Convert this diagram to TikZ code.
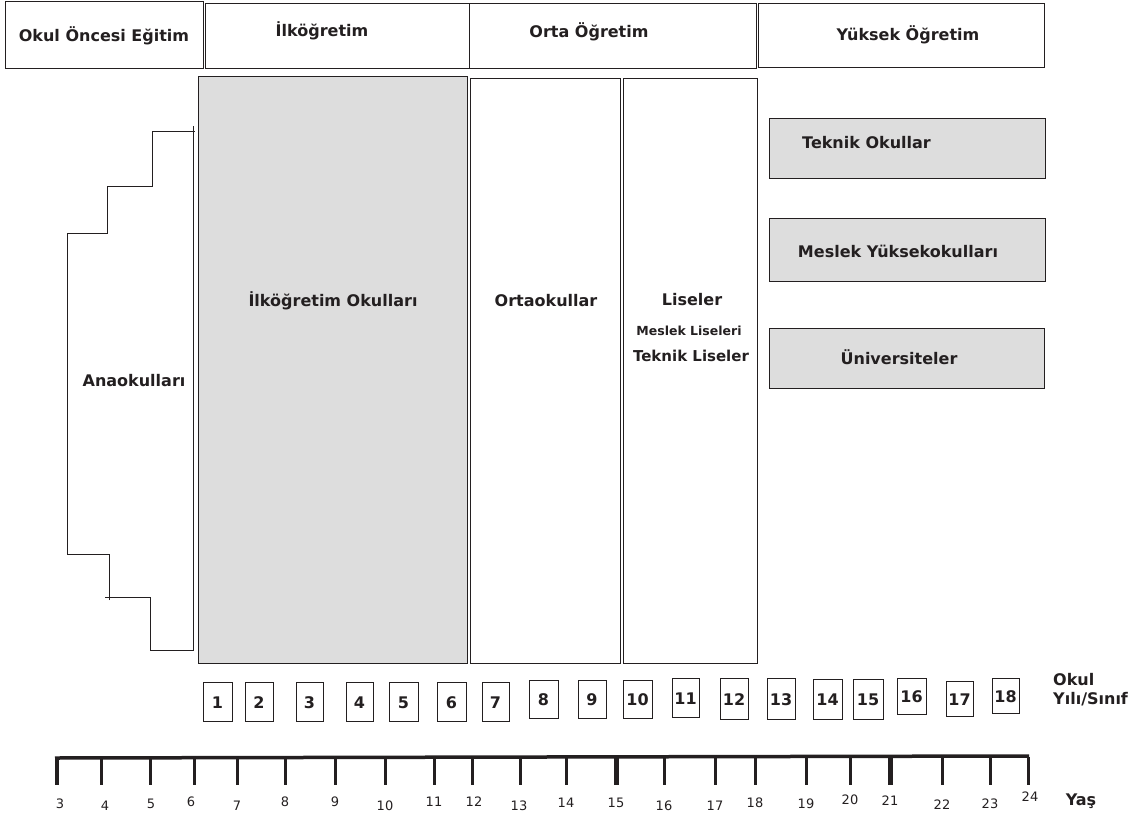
\documentclass[tikz,border=0pt]{standalone}
\usepackage{fontspec}
\setmainfont{DejaVu Sans}
\usepackage{tikz}

\definecolor{boxgray}{RGB}{221,221,221}
\definecolor{ink}{RGB}{35,31,32}
\tikzset{
  box/.style={draw=ink, line width=1pt},
  numbox/.style={draw=ink, line width=0.8pt},
  lbl/.style={text=ink, inner sep=0pt, font=\fontsize{16}{19}\selectfont\bfseries},
  agelbl/.style={text=ink, inner sep=0pt, font=\fontsize{13}{15}\selectfont}
}

\begin{document}
\begin{tikzpicture}[x=1pt, y=-1pt]
   \useasboundingbox (0,0) rectangle (1146,814);
   % header boxes
   \draw [box] (5,1) rectangle (203,68);
   \draw [box] (205,3) rectangle (469,68);
   \draw [box] (469,3) rectangle (756,68);
   \draw [box] (758,3) rectangle (1044,67);
   \node [lbl] (okulonc) at (104,36) {Okul Öncesi Eğitim};
   \node [lbl] (ilkhd) at (322,31) {İlköğretim};
   \node [lbl] (ortahd) at (589,32) {Orta Öğretim};
   \node [lbl] (yukhd) at (908,35) {Yüksek Öğretim};
   % school columns
   \draw [box, fill=boxgray] (198,76) rectangle (467,663);
   \draw [box] (470,78) rectangle (620,663);
   \draw [box] (623,78) rectangle (757,663);
   \node [lbl] (ilkokul) at (333,301) {İlköğretim Okulları};
   \node [lbl] (ortaok) at (546,301) {Ortaokullar};
   \node [lbl] (lise) at (692,300) {Liseler};
   \node [lbl, font=\fontsize{12.5}{15}\selectfont\bfseries] (meslise) at (689,331) {Meslek Liseleri};
   \node [lbl, font=\fontsize{15}{18}\selectfont\bfseries] (teklise) at (691,356) {Teknik Liseler};
   % higher education
   \draw [box, fill=boxgray] (769,118) rectangle (1045,178);
   \draw [box, fill=boxgray] (769,218) rectangle (1045,281);
   \draw [box, fill=boxgray] (769,328) rectangle (1044,388);
   \node [lbl, anchor=west] (teknok) at (802,143) {Teknik Okullar};
   \node [lbl] (mesyuk) at (898,251) {Meslek Yüksekokulları};
   \node [lbl] (univ) at (899,357) {Üniversiteler};
   % kindergarten bracket
   \draw [ink, line width=0.9pt] (193,126) -- (193,650) -- (150,650) -- (150,597) -- (105,597)
      (109,600) -- (109,554) -- (67,554) -- (67,233) -- (107,233) -- (107,186) -- (152,186)
      -- (152,131) -- (195,131);
   \node [lbl] (anaok) at (134,381) {Anaokulları};
   % class boxes
   \foreach \n/\xa/\xb/\ya/\yb in {1/203/232/682/721, 2/245/273/682/721, 3/296/323/682/721,
      4/346/373/682/721, 5/389/418/682/721, 6/437/466/682/721, 7/482/509/682/721,
      8/529/558/680/718, 9/578/606/680/718, 10/623/652/680/718, 11/672/699/678/717,
      12/720/748/678/719, 13/767/795/678/719, 14/813/842/679/719, 15/853/883/679/719,
      16/897/926/678/714, 17/946/973/681/716, 18/992/1019/678/713}
   {
      \draw [numbox] (\xa,\ya) rectangle (\xb,\yb);
      \node [lbl] (sinif\n) at ({(\xa+\xb)/2},{(\ya+\yb)/2+1}) {\n};
   }
   \node [lbl, anchor=west] (okulyil) at (1053,680) {Okul};
   \node [lbl, anchor=west] (yilsinif) at (1053,699) {Yılı/Sınıf};
   % age axis
   \draw [ink, line width=3.5pt] (55,758) -- (1029,756);
   \foreach \x/\w in {57/4.5, 101/3, 150/3, 194/3, 237/3, 285/3, 335/3, 385/3, 434/3,
      472/3, 520/3, 566/3, 616/5, 664/3, 715/3, 755/3, 806/3, 850/3, 890/5, 942/3,
      990/3, 1028/3}
      \draw [ink, line width=\w pt] (\x,757) -- (\x,785);
   \foreach \a/\x/\y in {3/60/804, 4/105/806, 5/151/804, 6/191/802, 7/237/806, 8/285/802,
      9/335/802, 10/385/806, 11/434/802, 12/474/802, 13/519/806, 14/566/803, 15/616/803,
      16/664/806, 17/715/806, 18/755/803, 19/806/804, 20/850/800, 21/890/801, 22/942/805,
      23/990/804, 24/1030/797}
      \node [agelbl] (yas\a) at (\x,\y) {\a};
   \node [lbl] (yas) at (1081,801) {Yaş};
\end{tikzpicture}
\end{document}
